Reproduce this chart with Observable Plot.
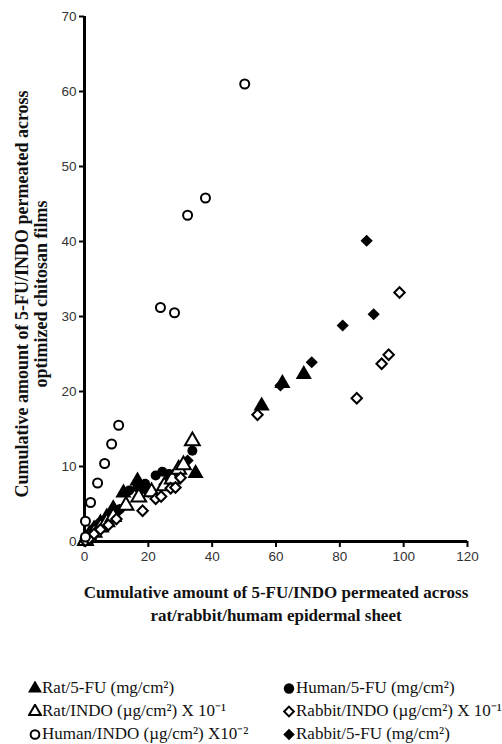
<!DOCTYPE html>
<html>
<head>
<meta charset="utf-8">
<script src="https://cdn.jsdelivr.net/npm/d3@7"></script>
<script src="https://cdn.jsdelivr.net/npm/@observablehq/plot@0.6"></script>
<style>
  body { margin: 0; background: #fff; overflow: hidden; }
  #chart { width: 502px; }
  #legend { font-family: "Liberation Serif", "Times New Roman", serif; font-size: 17px; color: #111;
            display: grid; grid-template-columns: 253px 249px; padding-top: 26px; line-height: 23px; white-space: nowrap; }
  #legend .item { display: flex; align-items: center; padding-left: 28px; }
  #legend .item:nth-child(even) { padding-left: 29px; }
  #legend svg { margin-right: 0px; flex: none; }
</style>
</head>
<body>
<div id="chart"></div>
<div id="legend"></div>
<script>
// ---- data ----
const xTicks = [0, 20, 40, 60, 80, 100, 120];
const yTicks = [0, 10, 20, 30, 40, 50, 60, 70];

const ratFUx = [0.3, 1.5, 3, 5, 7, 9, 12.2, 16.6, 19, 26, 34.8, 55.5, 62, 68.7];
const ratFUy = [0.3, 1, 1.7, 2.5, 3.3, 4.4, 6.5, 8.1, 7, 8, 9.1, 18.1, 21.1, 22.3];

const humanFUx = [0.3, 1.5, 3, 5, 7, 9, 11, 14, 16.5, 19, 22.3, 24.4, 26.5, 33.8];
const humanFUy = [0.2, 0.8, 1.5, 2.2, 2.9, 3.6, 4.3, 6.8, 7.2, 7.7, 8.8, 9.3, 9, 12.1];

const rabbitFUx = [0.3, 1.5, 3, 5, 7, 9, 11, 20, 25, 29, 32.3, 61.4, 71.2, 80.9, 88.4, 90.6];
const rabbitFUy = [0.4, 1.1, 1.9, 2.7, 3.1, 3.5, 4.2, 6.6, 7.6, 8.9, 10.8, 20.8, 23.9, 28.8, 40.1, 30.3];

const ratINDOx = [0.3, 1.5, 3, 5, 7, 9, 13, 17, 21, 25, 27.5, 29.5, 31, 33.8];
const ratINDOy = [0.1, 0.6, 1.2, 1.9, 2.6, 3.3, 4.8, 5.9, 6.6, 7.4, 8.3, 9.6, 10.2, 13.4];

const rabbitINDOx = [0.3, 1.5, 3, 5, 7.5, 10, 18.2, 22.3, 24, 27, 28.5, 30.1, 54.2, 85.3, 93.1, 95.3, 98.7];
const rabbitINDOy = [0.1, 0.4, 1, 1.6, 2.2, 3, 4.1, 5.7, 6, 7.1, 7.2, 8.5, 16.9, 19.1, 23.7, 24.9, 33.2];

const humanINDOx = [0.3, 0.3, 1.9, 4.1, 6.3, 8.5, 10.7, 23.8, 28.2, 32.3, 37.9, 50.2];
const humanINDOy = [0.6, 2.7, 5.2, 7.8, 10.4, 13, 15.5, 31.2, 30.5, 43.5, 45.8, 61];

const xLabel = "Cumulative amount of 5-FU/INDO permeated across\nrat/rabbit/humam epidermal sheet";
const yLabel = "Cumulative amount of 5-FU/INDO permeated across\noptimized chitosan films";

const legendLabels = [
  "Rat/5-FU (mg/cm²)", "Human/5-FU (mg/cm²)",
  "Rat/INDO (µg/cm²) X 10⁻¹", "Rabbit/INDO (µg/cm²) X 10⁻¹",
  "Human/INDO (µg/cm²) X10⁻²", "Rabbit/5-FU (mg/cm²)"
];

// ---- build ----
const series = (xs, ys) => xs.map((x, i) => ({x, y: ys[i]}));
const filled = (data, symbol, r) => Plot.dot(data, {x: "x", y: "y", symbol: () => symbol, r, fill: "#000", stroke: "none"});
const open = (data, symbol, r) => Plot.dot(data, {x: "x", y: "y", symbol: () => symbol, r, fill: "#fff", stroke: "#000", strokeWidth: 2});

const serif = "'Liberation Serif', 'Times New Roman', serif";

const plot = Plot.plot({
  width: 502,
  height: 650,
  marginLeft: 84,
  marginRight: 35,
  marginTop: 16,
  marginBottom: 109,
  style: {fontFamily: "'Liberation Sans', Arial, sans-serif", fontSize: "13.5px", color: "#333", background: "#fff"},
  x: {domain: [0, 120]},
  y: {domain: [0, 70]},
  symbol: {type: "identity"},
  marks: [
    Plot.axisX({ticks: xTicks, tickSize: 6, strokeWidth: 2, stroke: "#000", tickPadding: 4, fontSize: 13.5, label: null, fill: "#333"}),
    Plot.axisY({ticks: yTicks, tickSize: 5, strokeWidth: 2, stroke: "#000", tickPadding: 3, fontSize: 13.5, label: null, fill: "#333"}),
    Plot.ruleX([0], {stroke: "#000", strokeWidth: 3}),
    Plot.ruleY([0], {stroke: "#000", strokeWidth: 3}),
    filled(series(ratFUx, ratFUy), "triangle", 6),
    filled(series(humanFUx, humanFUy), "circle", 5),
    filled(series(rabbitFUx, rabbitFUy), "diamond2", 5.5),
    open(series(ratINDOx, ratINDOy), "triangle", 5.5),
    open(series(rabbitINDOx, rabbitINDOy), "diamond2", 4.7),
    open(series(humanINDOx, humanINDOy), "circle", 4.5),
    Plot.text([xLabel], {frameAnchor: "bottom", lineAnchor: "top", dy: 40, fontSize: 17, fontWeight: "bold", fontFamily: serif, fill: "#111", lineHeight: 1.35, text: d => d}),
    Plot.text([yLabel], {frameAnchor: "left", rotate: -90, textAnchor: "middle", lineAnchor: "middle", dx: -53, dy: 15, fontSize: 18, fontWeight: "bold", fontFamily: serif, fill: "#111", lineHeight: 1.08, text: d => d})
  ]
});
document.getElementById("chart").appendChild(plot);

// ---- legend ----
const legendSymbols = [
  {type: d3.symbolTriangle, fill: "#000", stroke: "none"},
  {type: d3.symbolCircle, fill: "#000", stroke: "none"},
  {type: d3.symbolTriangle, fill: "#fff", stroke: "#000"},
  {type: d3.symbolDiamond2, fill: "#fff", stroke: "#000"},
  {type: d3.symbolCircle, fill: "#fff", stroke: "#000"},
  {type: d3.symbolDiamond2, fill: "#000", stroke: "none"}
];
const legend = d3.select("#legend");
legendLabels.forEach((label, i) => {
  const item = legend.append("div").attr("class", "item");
  const s = legendSymbols[i];
  const svg = item.append("svg").attr("width", 14).attr("height", 14);
  svg.append("path")
    .attr("transform", "translate(7,7.5)")
    .attr("d", d3.symbol(s.type, s.stroke === "none" ? 85 : 60)())
    .attr("fill", s.fill).attr("stroke", s.stroke).attr("stroke-width", 2);
  item.append("span").text(label);
});
</script>
</body>
</html>
